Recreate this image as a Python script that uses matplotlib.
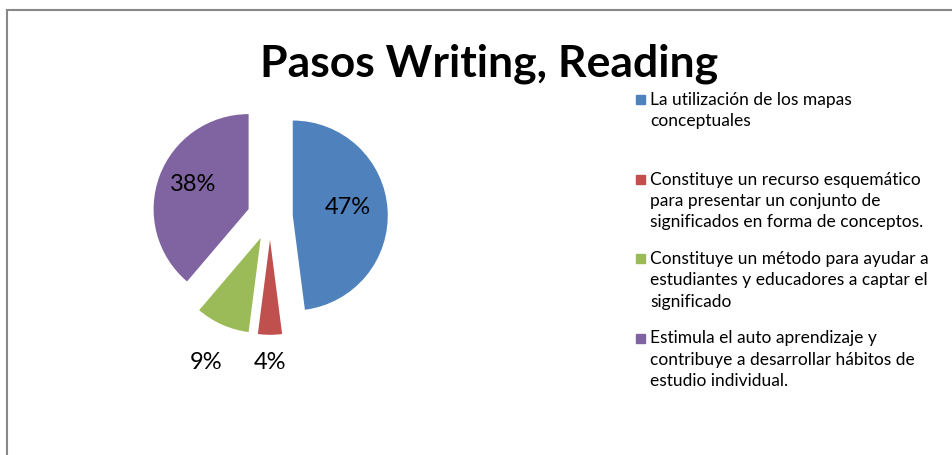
import matplotlib.pyplot as plt
import numpy as np
from matplotlib.patches import Rectangle

plt.rcParams['font.family'] = ['Lato', 'DejaVu Sans']

title = "Pasos Writing, Reading"
labels = [
    "La utilización de los mapas\nconceptuales",
    "Constituye un recurso esquemático\npara presentar un conjunto de\nsignificados en forma de conceptos.",
    "Constituye un método para ayudar a\nestudiantes y educadores a captar el\nsignificado",
    "Estimula el auto aprendizaje y\ncontribuye a desarrollar hábitos de\nestudio individual.",
]
values = [47, 4, 9, 38]
colors = ['#4F81BD', '#C0504D', '#9BBB59', '#8064A2']

W, H = 952, 456
fig = plt.figure(figsize=(W / 100, H / 100), dpi=100)

# outer chart border (only top and left visible)
fig.add_artist(plt.Line2D([7 / W, 7 / W], [0, 1 - 11 / H], color='#888888', lw=1.5))
fig.add_artist(plt.Line2D([7 / W, 1], [1 - 11 / H, 1 - 11 / H], color='#888888', lw=1.5))

# pie axes: 1 unit = 95 px, centred at (270, 218)
r_px = 95
cx, cy = 270, 218
ax = fig.add_axes([(cx - 1.5 * r_px) / W, (H - cy - 1.5 * r_px) / H, 3 * r_px / W, 3 * r_px / H])
total = sum(values)
wedges, texts, autotexts = ax.pie(values, colors=colors, startangle=90, counterclock=False,
                                  explode=[0.24] * 4,
                                  autopct=lambda p: '%d%%' % round(p * total / 100),
                                  pctdistance=0.6,
                                  textprops={'fontsize': 17, 'color': 'black'})
# label distance from each wedge's tip (small slices get labels outside)
label_dist = [0.58, 1.28, 1.42, 0.62]
for w, t, d in zip(wedges, autotexts, label_dist):
    ang = np.deg2rad((w.theta1 + w.theta2) / 2)
    cxw, cyw = w.center
    t.set_position((cxw + d * np.cos(ang), cyw + d * np.sin(ang) + (0.06 if d < 1 else 0)))
ax.set_xlim(-1.5, 1.5)
ax.set_ylim(-1.5, 1.5)
ax.set_aspect('equal')
ax.axis('off')

fig.text(489 / W, 1 - 64 / H, title, fontsize=32, fontweight='bold', ha='center', va='center')

# legend
y0 = 100
step = 79.5
for i, (lab, c) in enumerate(zip(labels, colors)):
    y = y0 + i * step
    fig.add_artist(Rectangle((636 / W, 1 - (y + 5) / H), 9 / W, 9 / H, color=c,
                             transform=fig.transFigure))
    fig.text(650 / W, 1 - (y - 8) / H, lab, fontsize=12.5, ha='left', va='top', linespacing=1.42)

fig.savefig('out.png', dpi=100)
